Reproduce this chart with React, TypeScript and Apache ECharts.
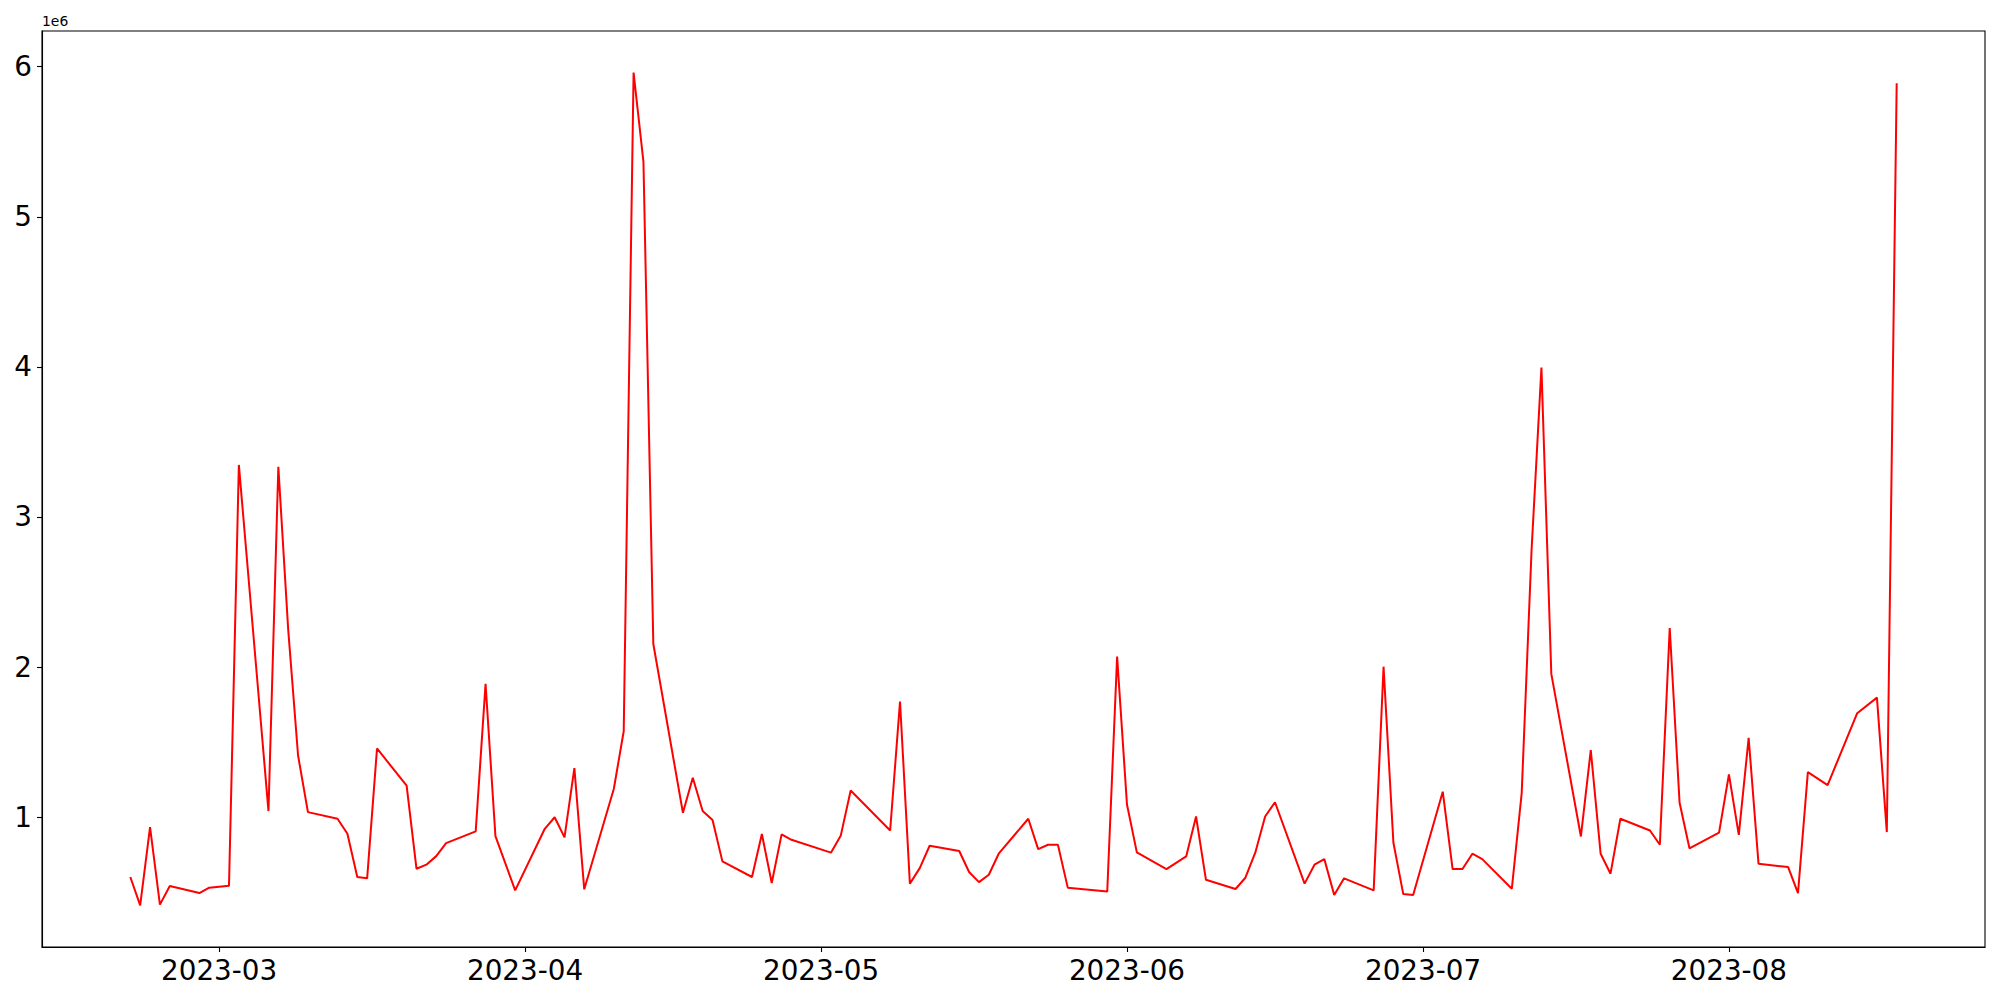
import React, { useEffect, useRef } from "react";
import * as echarts from "echarts";

const dates: string[] = [
  "2023-02-20", "2023-02-21", "2023-02-22", "2023-02-23", "2023-02-24", "2023-02-27", "2023-02-28",
  "2023-03-02", "2023-03-03", "2023-03-06", "2023-03-07", "2023-03-08", "2023-03-09", "2023-03-10",
  "2023-03-13", "2023-03-14", "2023-03-15", "2023-03-16", "2023-03-17", "2023-03-20", "2023-03-21",
  "2023-03-22", "2023-03-23", "2023-03-24", "2023-03-27", "2023-03-28", "2023-03-29", "2023-03-31",
  "2023-04-03", "2023-04-04", "2023-04-05", "2023-04-06", "2023-04-07", "2023-04-10", "2023-04-11",
  "2023-04-12", "2023-04-13", "2023-04-14", "2023-04-17", "2023-04-18", "2023-04-19", "2023-04-20",
  "2023-04-21", "2023-04-24", "2023-04-25", "2023-04-26", "2023-04-27", "2023-04-28", "2023-05-02",
  "2023-05-03", "2023-05-04", "2023-05-08", "2023-05-09", "2023-05-10", "2023-05-11", "2023-05-12",
  "2023-05-15", "2023-05-16", "2023-05-17", "2023-05-18", "2023-05-19", "2023-05-22", "2023-05-23",
  "2023-05-24", "2023-05-25", "2023-05-26", "2023-05-30", "2023-05-31", "2023-06-01", "2023-06-02",
  "2023-06-05", "2023-06-07", "2023-06-08", "2023-06-09", "2023-06-12", "2023-06-13", "2023-06-14",
  "2023-06-15", "2023-06-16", "2023-06-19", "2023-06-20", "2023-06-21", "2023-06-22", "2023-06-23",
  "2023-06-26", "2023-06-27", "2023-06-28", "2023-06-29", "2023-06-30", "2023-07-03", "2023-07-04",
  "2023-07-05", "2023-07-06", "2023-07-07", "2023-07-10", "2023-07-11", "2023-07-12", "2023-07-13",
  "2023-07-14", "2023-07-17", "2023-07-18", "2023-07-19", "2023-07-20", "2023-07-21", "2023-07-24",
  "2023-07-25", "2023-07-26", "2023-07-27", "2023-07-28", "2023-07-31", "2023-08-01", "2023-08-02",
  "2023-08-03", "2023-08-04", "2023-08-07", "2023-08-08", "2023-08-09", "2023-08-11", "2023-08-14",
  "2023-08-16", "2023-08-17", "2023-08-18",
];

const values: number[] = [
  602000, 413000, 934000, 418000, 542000, 495000, 531000,
  544000, 3347000, 1041000, 3334000, 2250000, 1411000, 1034000,
  990000, 890000, 602000, 593000, 1458000, 1210000, 657000,
  684000, 741000, 828000, 906000, 1888000, 874000, 513000,
  923000, 1000000, 866000, 1327000, 520000, 1190000, 1573000,
  5960000, 5365000, 2154000, 1030000, 1263000, 1041000, 981000,
  706000, 602000, 888000, 562000, 886000, 850000, 764000,
  879000, 1178000, 912000, 1770000, 558000, 661000, 810000,
  775000, 635000, 568000, 617000, 757000, 990000, 788000,
  817000, 817000, 531000, 506000, 2070000, 1085000, 766000,
  655000, 739000, 1005000, 584000, 522000, 597000, 764000,
  1005000, 1100000, 558000, 684000, 721000, 482000, 593000,
  513000, 2003000, 830000, 488000, 482000, 1170000, 655000,
  655000, 757000, 721000, 524000, 1161000, 2780000, 3995000,
  1955000, 872000, 1447000, 757000, 624000, 990000, 912000,
  817000, 2261000, 1096000, 793000, 897000, 1285000, 883000,
  1529000, 690000, 668000, 495000, 1300000, 1214000, 1693000,
  1797000, 901000, 5890000,
];

const yTicks: number[] = [1000000, 2000000, 3000000, 4000000, 5000000, 6000000];
const xTickDates: string[] = ["2023-03-01", "2023-04-01", "2023-05-01", "2023-06-01", "2023-07-01", "2023-08-01"];
const yOffsetLabel = "1e6";

function toTime(s: string): number {
  const [y, m, d] = s.split("-").map(Number);
  return Date.UTC(y, m - 1, d);
}

function pad2(n: number): string {
  return n < 10 ? "0" + n : String(n);
}

export default function App() {
  const ref = useRef<HTMLDivElement>(null);

  useEffect(() => {
    if (!ref.current) return;
    const chart = echarts.init(ref.current, undefined, { renderer: "svg" });
    const data = dates.map((d, i) => [toTime(d), values[i]]);
    const t0 = toTime(dates[0]);
    const t1 = toTime(dates[dates.length - 1]);
    const span = t1 - t0;
    const vMin = Math.min(...values);
    const vMax = Math.max(...values);
    const vSpan = vMax - vMin;
    const xTicks = xTickDates.map(toTime);
    const font = "DejaVu Sans";

    chart.setOption({
      animation: false,
      backgroundColor: "#ffffff",
      grid: {
        left: 42,
        right: 15,
        top: 31,
        bottom: 53,
        show: true,
        borderColor: "#000000",
        borderWidth: 1.1,
        backgroundColor: "transparent",
      },
      xAxis: {
        type: "value",
        min: t0 - span * 0.05,
        max: t1 + span * 0.05,
        axisLine: { show: true, lineStyle: { color: "#000", width: 1.1 } },
        axisTick: {
          show: true,
          inside: false,
          length: 5,
          lineStyle: { color: "#000", width: 1.1 },
          customValues: xTicks,
        },
        axisLabel: {
          show: true,
          margin: 9,
          fontSize: 27.8,
          color: "#000",
          fontFamily: font,
          customValues: xTicks,
          showMinLabel: true,
          showMaxLabel: true,
          hideOverlap: false,
          formatter: (v: number) => {
            const d = new Date(v);
            return d.getUTCFullYear() + "-" + pad2(d.getUTCMonth() + 1);
          },
        },
        splitLine: { show: false },
      },
      yAxis: {
        type: "value",
        min: vMin - vSpan * 0.05,
        max: vMax + vSpan * 0.05,
        axisLine: { show: true, lineStyle: { color: "#000", width: 1.1 } },
        axisTick: {
          show: true,
          inside: false,
          length: 5,
          lineStyle: { color: "#000", width: 1.1 },
          customValues: yTicks,
        },
        axisLabel: {
          show: true,
          margin: 10,
          fontSize: 27.8,
          color: "#000",
          fontFamily: font,
          customValues: yTicks,
          showMinLabel: true,
          showMaxLabel: true,
          hideOverlap: false,
          formatter: (v: number) => String(Math.round(v / 1e6)),
        },
        splitLine: { show: false },
      },
      graphic: [
        {
          type: "text",
          left: 42,
          top: 14,
          style: {
            text: yOffsetLabel,
            fontSize: 13.9,
            fontFamily: font,
            fill: "#000",
          },
        },
      ],
      series: [
        {
          type: "line",
          data,
          showSymbol: false,
          symbol: "none",
          lineStyle: { color: "#ff0000", width: 2 },
          itemStyle: { color: "#ff0000" },
        },
      ],
    });

    return () => {
      chart.dispose();
    };
  }, []);

  return (
    <div
      ref={ref}
      style={{ position: "fixed", left: 0, top: 0, width: 2000, height: 1000, background: "#fff" }}
    />
  );
}
